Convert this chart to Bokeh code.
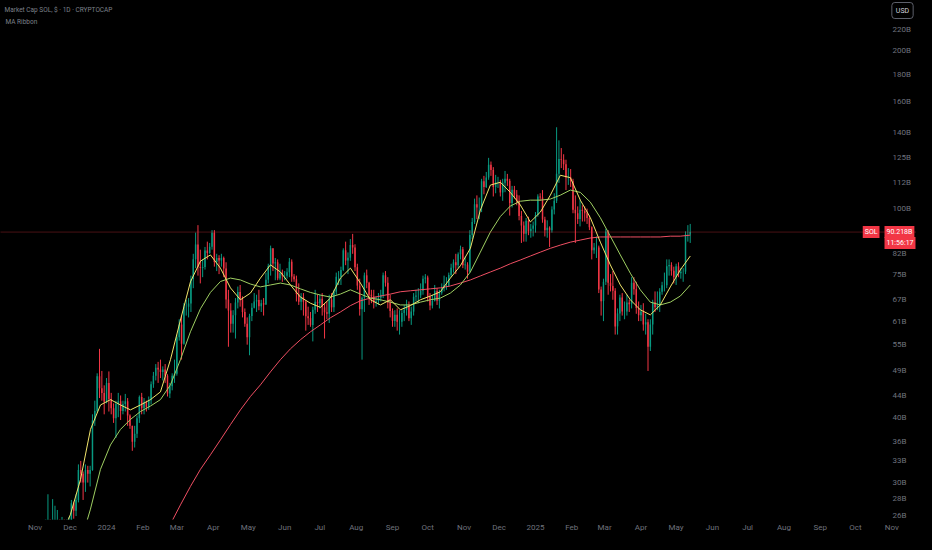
import pandas as pd
from bokeh.plotting import figure
from bokeh.models import (ColumnDataSource, Range1d, FixedTicker, Span, Label,
                          GlobalInlineStyleSheet)
from bokeh.embed import file_html
from bokeh.resources import INLINE

# SOL market cap, 2-day candles, billions USD, first candle 2023-11-09
candle_start = "2023-11-09"
first_open = 18.6
closes = [
    23.5, 23.9, 22.4, 24.5, 25.0, 25.4, 24.1, 24.5, 24.1, 24.5, 25.0,
    27.4, 26.5, 27.8, 31.7, 31.2, 30.0, 31.7, 31.2, 31.7, 39.4, 41.1, 47.9, 45.4, 44.5, 42.8, 46.5,
    43.3, 41.6, 39.8, 42.4, 42.9, 41.1, 42.4, 42.9, 40.3, 38.5, 35.9, 37.2, 39.8, 43.7, 41.6,
    42.7, 41.8, 43.1, 46.2, 48.0, 49.7, 49.3, 48.8, 49.3, 48.0, 44.4, 45.8, 48.0, 48.4, 56.8,
    60.1, 55.2, 65.0, 65.0, 65.9, 73.4, 80.1, 85.4, 77.4, 77.0, 77.4, 83.2, 82.3, 84.6, 89.9,
    79.1, 80.5, 79.6, 80.5, 76.9, 67.1, 63.9, 60.3, 62.6, 66.2, 69.3, 67.1, 63.5, 60.3, 56.8,
    62.4, 64.7, 66.5, 66.9, 65.1, 66.0, 65.6, 73.2, 77.7, 84.0, 78.6, 79.0, 73.6, 75.4, 74.5, 74.5,
    75.6, 79.2, 74.2, 73.3, 68.7, 66.4, 67.8, 66.4, 62.3, 61.8, 60.0, 64.1, 66.4, 66.0, 67.3,
    64.8, 63.4, 63.0, 67.1, 64.8, 69.4, 74.1, 74.1, 76.4, 83.3, 79.6, 80.6, 85.2, 84.3, 77.3,
    71.3, 64.3, 67.6, 74.6, 72.2, 68.5, 68.0, 66.2, 66.6, 67.6, 68.5, 74.6, 72.2, 66.2, 63.8, 61.0,
    62.7, 60.8, 60.8, 63.2, 64.1, 65.5, 61.8, 63.6, 67.9, 68.3, 68.3, 69.7, 73.5, 73.9, 67.9,
    65.3, 66.7, 69.6, 66.7, 69.1, 70.5, 71.4, 71.4, 74.7, 77.1, 79.0, 78.0, 81.8, 83.7, 78.0,
    78.2, 75.8, 89.1, 94.3, 101.9, 100.5, 100.5, 112.8, 110.0, 114.7, 121.3, 118.5, 110.0, 112.3, 112.3,
    107.3, 112.1, 114.0, 113.0, 102.5, 108.7, 106.3, 103.5, 96.8, 92.9, 89.6, 94.8, 90.5, 91.5, 92.9, 97.2,
    105.5, 105.0, 95.3, 90.9, 91.9, 90.9, 99.6, 103.5, 116.6, 124.4, 123.9, 121.5, 114.7, 114.7, 112.8,
    99.5, 98.0, 95.6, 99.5, 99.0, 98.0, 96.0, 92.1, 83.3, 84.3, 84.3, 70.1, 66.6, 72.5,
    90.4, 72.2, 71.2, 69.7, 59.6, 63.1, 67.7, 63.6, 63.6, 66.2, 65.7, 72.2, 70.2, 64.6, 62.6, 63.6,
    60.1, 60.7, 54.5, 60.1, 66.3, 64.8, 65.3, 69.4, 71.4, 71.4, 77.6, 78.1, 76.1, 74.0, 77.6,
    75.3, 75.8, 75.8, 89.3, 89.3, 90.218,
]
highs = [
    24.5, 28.5, 24.1, 27.9, 27.1, 26.6, 25.4, 25.8, 25.4, 25.0, 25.8,
    27.8, 27.6, 28.5, 32.5, 33.0, 31.5, 32.5, 32.3, 32.3, 40.5, 43.0, 48.5, 54.0, 49.0, 46.0, 47.5,
    48.9, 44.5, 42.5, 43.0, 44.5, 44.0, 43.0, 44.3, 43.5, 40.5, 38.5, 38.5, 40.3, 44.0, 44.5,
    43.5, 43.0, 43.8, 46.8, 48.8, 50.5, 51.0, 51.5, 50.0, 50.5, 48.3, 46.5, 48.5, 51.5, 57.5,
    61.5, 62.5, 66.0, 67.0, 67.5, 74.5, 82.0, 90.0, 93.0, 83.5, 80.0, 84.5, 86.5, 86.0, 91.0,
    91.0, 82.0, 81.5, 82.0, 81.0, 79.0, 70.0, 66.0, 64.0, 67.5, 71.0, 71.5, 68.0, 64.5, 62.0,
    63.0, 66.0, 69.0, 68.5, 70.0, 67.0, 67.5, 75.5, 78.5, 85.0, 84.0, 80.5, 80.0, 78.5, 76.5, 76.0,
    77.0, 80.5, 80.0, 75.0, 74.5, 72.0, 69.0, 69.0, 66.8, 65.0, 63.5, 65.0, 70.0, 68.5, 68.5,
    69.0, 66.0, 66.5, 68.5, 69.0, 70.0, 75.5, 76.0, 77.5, 84.0, 86.5, 82.5, 87.5, 89.5, 85.5,
    78.5, 73.5, 68.0, 75.5, 76.5, 72.5, 70.0, 70.0, 68.0, 69.0, 70.0, 75.5, 76.0, 74.0, 68.5, 64.5,
    64.0, 64.5, 64.0, 64.0, 65.5, 67.0, 66.5, 65.0, 69.0, 70.0, 70.5, 72.0, 74.5, 75.0, 74.5,
    69.0, 68.5, 71.5, 70.5, 70.0, 72.0, 74.5, 74.0, 75.5, 78.5, 80.0, 82.0, 82.5, 85.0, 84.5,
    81.0, 79.0, 91.0, 96.0, 104.5, 106.0, 105.0, 114.0, 115.5, 117.5, 125.0, 123.0, 120.0, 116.0, 115.0,
    113.5, 114.0, 118.0, 116.5, 114.0, 110.5, 110.5, 108.5, 106.0, 99.0, 94.5, 96.0, 96.5, 93.5, 94.5, 98.5,
    106.5, 107.0, 108.5, 96.5, 95.0, 92.5, 101.0, 107.0, 143.0, 135.0, 130.5, 127.0, 124.0, 119.5, 119.0,
    114.0, 106.0, 101.0, 104.0, 101.5, 101.0, 100.0, 97.0, 92.5, 86.0, 88.5, 85.0, 71.0, 73.5,
    91.5, 91.0, 75.0, 76.0, 70.5, 64.5, 68.5, 69.0, 66.5, 68.5, 67.0, 74.0, 74.0, 72.5, 66.5, 65.5,
    66.0, 63.0, 61.5, 61.5, 67.0, 69.5, 69.5, 70.5, 72.5, 75.5, 80.0, 80.0, 79.0, 77.5, 78.5,
    79.0, 77.0, 77.0, 90.5, 93.0, 93.5,
]
lows = [
    18.2, 22.4, 22.0, 22.4, 23.7, 24.5, 22.0, 23.7, 23.3, 22.4, 24.1,
    24.8, 25.6, 25.9, 27.5, 30.0, 27.8, 28.8, 30.0, 29.5, 31.6, 38.5, 40.8, 43.5, 43.0, 40.5, 42.5,
    41.0, 40.5, 39.0, 36.5, 40.0, 39.5, 40.5, 41.0, 38.5, 38.0, 34.5, 35.0, 36.5, 39.0, 40.5,
    40.5, 41.0, 41.3, 42.3, 45.5, 47.0, 46.5, 47.5, 47.0, 46.5, 43.8, 43.5, 45.0, 46.5, 48.0,
    56.0, 51.5, 55.0, 62.5, 62.0, 63.5, 70.5, 77.0, 74.5, 72.0, 74.0, 76.5, 80.0, 82.0, 83.5,
    77.5, 76.0, 75.0, 77.5, 74.0, 64.5, 54.5, 58.0, 58.0, 56.5, 64.5, 65.0, 62.0, 59.5, 55.0,
    52.5, 61.0, 64.5, 63.5, 64.0, 63.5, 62.5, 65.5, 72.0, 74.5, 76.0, 73.0, 73.0, 73.0, 72.5, 73.0,
    73.5, 74.0, 72.5, 72.5, 66.5, 65.5, 64.0, 62.5, 58.5, 60.0, 59.5, 55.8, 63.0, 63.5, 64.5,
    62.5, 56.5, 61.5, 60.5, 63.5, 63.5, 68.5, 71.5, 71.5, 76.0, 78.0, 75.0, 79.5, 82.0, 76.0,
    70.0, 62.5, 51.5, 63.5, 70.5, 65.5, 66.0, 64.5, 65.0, 65.5, 66.5, 67.5, 71.0, 64.5, 62.0, 59.5,
    59.5, 58.5, 57.5, 59.5, 61.0, 62.5, 61.0, 60.0, 62.5, 66.5, 66.0, 67.5, 68.5, 72.0, 66.5,
    64.0, 64.5, 66.5, 65.5, 64.5, 68.5, 69.5, 70.0, 71.0, 74.0, 75.5, 75.0, 77.0, 80.0, 77.0,
    76.5, 73.5, 75.5, 87.5, 93.5, 95.5, 95.5, 98.5, 106.5, 109.5, 113.5, 115.5, 105.5, 107.0, 109.5,
    105.5, 103.5, 107.5, 110.5, 97.0, 100.5, 104.5, 101.5, 95.0, 86.0, 86.5, 86.5, 89.0, 88.0, 88.5, 90.0,
    96.5, 103.5, 94.0, 88.5, 88.0, 84.5, 90.0, 97.5, 102.5, 112.0, 119.5, 118.5, 108.5, 111.0, 110.0,
    98.0, 86.0, 93.5, 92.5, 94.5, 94.5, 93.5, 91.0, 80.0, 82.0, 80.5, 69.0, 62.5, 61.0,
    71.5, 68.5, 69.5, 67.0, 57.5, 57.5, 61.0, 62.5, 61.5, 62.5, 63.5, 64.5, 68.5, 63.0, 61.0, 61.0,
    58.5, 57.5, 49.0, 53.5, 57.5, 63.5, 64.0, 63.5, 68.5, 69.5, 70.5, 74.5, 74.5, 72.0, 71.5,
    74.0, 73.5, 72.5, 75.0, 86.5, 86.0,
]

# moving averages, one point every 8.53 days
ma_step_days = 8.53
ma_fast_start = "2023-11-22 17:00"
ma_fast = [
    23.5, 26.1, 30.4, 37.9, 42.2, 43.2, 42.2, 41.3, 42.2, 43.2, 44.7, 51.5, 61.3, 72.5, 79.4, 81.6,
    77.0, 70.6, 67.0, 69.0, 73.7, 78.1, 75.7, 71.5, 67.8, 66.0, 64.8, 67.5, 73.7, 77.0, 72.1, 67.0,
    65.5, 67.0, 64.1, 65.3, 67.0, 68.1, 69.4, 73.7, 77.8, 84.0, 99.4, 110.9, 112.3, 107.4, 101.6,
    94.3, 98.5, 106.1, 115.8, 114.6, 103.8, 96.1, 86.3, 78.1, 71.5, 67.0, 64.1, 62.7, 65.5, 70.9,
    76.4, 81.2,
]
ma_mid_start = "2023-12-09 18:00"
ma_mid = [
    23.0, 26.7, 31.8, 35.4, 37.9, 39.6, 41.0, 42.0, 43.2, 46.1, 51.5, 58.2, 64.4, 69.2, 72.6, 73.7,
    73.1, 71.8, 70.9, 71.5, 72.1, 71.5, 70.3, 69.2, 68.4, 67.8, 68.7, 70.0, 68.7, 67.5, 67.0, 66.3,
    65.5, 65.5, 66.3, 67.0, 67.5, 69.0, 71.5, 75.7, 82.6, 90.2, 96.6, 101.2, 103.3, 103.8, 103.8,
    104.3, 106.1, 108.5, 107.4, 102.9, 96.1, 88.6, 81.6, 75.3, 70.0, 66.3, 65.5, 66.3, 68.1, 71.5,
]
ma_slow_start = "2024-02-16 00:00"
ma_slow = [
    23.0, 25.0, 27.2, 29.5, 31.8, 33.9, 36.2, 38.7, 41.3, 43.8, 46.1, 48.8, 51.5, 54.0, 56.2, 58.2,
    60.0, 61.9, 63.5, 65.3, 66.7, 67.5, 68.1, 68.7, 69.4, 69.7, 70.0, 70.3, 70.6, 71.2, 72.1, 73.1,
    74.4, 75.7, 77.0, 78.5, 79.8, 81.2, 82.6, 84.0, 85.2, 86.3, 87.1, 87.9, 88.3, 88.3, 88.3, 88.3,
    88.3, 88.3, 88.3, 88.6, 88.6, 89.0,
]

y_ticks = [26, 28, 30, 33, 36, 40, 44, 49, 55, 61, 67, 75, 82, 100, 112, 125, 140, 160, 180, 200, 220]
y_labels = ["26B", "28B", "30B", "33B", "36B", "40B", "44B", "49B", "55B", "61B", "67B", "75B",
            "82B", "100B", "112B", "125B", "140B", "160B", "180B", "200B", "220B"]
month_start = "2023-11-01"
month_labels = ["Nov", "Dec", "2024", "Feb", "Mar", "Apr", "May", "Jun", "Jul", "Aug", "Sep", "Oct",
                "Nov", "Dec", "2025", "Feb", "Mar", "Apr", "May", "Jun", "Jul", "Aug", "Sep", "Oct", "Nov"]

GREEN = "#089981"
RED = "#f23645"

opens = [first_open] + closes[:-1]
dates = pd.date_range(candle_start, periods=len(closes), freq="2D") + pd.Timedelta(days=1)
src = ColumnDataSource(dict(
    x=dates, o=opens, c=closes, h=highs, l=lows,
    color=[GREEN if c >= o else RED for o, c in zip(opens, closes)],
))

p = figure(width=916, height=534, x_axis_type="datetime", y_axis_type="log",
           y_axis_location="right",
           x_range=Range1d(pd.Timestamp("2023-10-02 12:30"), pd.Timestamp("2025-11-22 02:00")),
           y_range=Range1d(25.51, 249.6),
           output_backend="svg", toolbar_location=None,
           background_fill_color="#000000", border_fill_color="#000000",
           min_border_left=0, min_border_top=0, min_border_right=0, min_border_bottom=14)
p.stylesheets = [GlobalInlineStyleSheet(css="html, body { background-color: #000000; }")]
p.outline_line_color = None
p.grid.grid_line_color = None

p.segment(x0="x", y0="h", x1="x", y1="l", color="color", line_width=1, source=src)
p.vbar(x="x", width=pd.Timedelta(days=1.25).total_seconds() * 1000, top="o", bottom="c",
       fill_color="color", line_color=None, source=src)

step = pd.Timedelta(days=ma_step_days)
for start, vals, col in [(ma_slow_start, ma_slow, "#ef4f63"),
                         (ma_mid_start, ma_mid, "#9fcf62"),
                         (ma_fast_start, ma_fast, "#f1e56b")]:
    p.line(pd.date_range(start, periods=len(vals), freq=step), vals, line_color=col, line_width=1)

last = closes[-1]
p.add_layout(Span(location=last, dimension="width", line_color=RED, line_alpha=0.6,
                  line_width=1, line_dash="1 1"))

# axes: the price scale sits inside the frame at its right edge
tick_dates = pd.date_range(month_start, periods=len(month_labels), freq="MS")
tick_ms = [int(t.value // 10**6) for t in tick_dates]
p.xaxis.ticker = FixedTicker(ticks=tick_ms)
p.xaxis.major_label_overrides = dict(zip(tick_ms, month_labels))
p.yaxis.ticker = FixedTicker(ticks=y_ticks)
p.yaxis.major_label_overrides = dict(zip(y_ticks, y_labels))
p.yaxis.fixed_location = int(pd.Timestamp("2025-10-30").value // 10**6)
for ax in (p.xaxis, p.yaxis):
    ax.axis_line_color = None
    ax.major_tick_line_color = None
    ax.minor_tick_line_color = None
    ax.major_tick_out = 0
    ax.major_tick_in = 0
    ax.major_label_text_color = "#6f727c"
    ax.major_label_text_font = "Roboto"
    ax.major_label_text_font_size = "8px"
p.yaxis.major_label_standoff = 3
p.xaxis.major_label_standoff = 3

# header and price tags
p.add_layout(Label(x=4, y=510, x_units="screen", y_units="screen",
                   text="Market Cap SOL, $ · 1D · CRYPTOCAP", text_font="Roboto",
                   text_font_size="6.5px", text_color="#7d808a", text_baseline="middle"))
p.add_layout(Label(x=5, y=498, x_units="screen", y_units="screen",
                   text="MA Ribbon", text_font="Roboto",
                   text_font_size="6.5px", text_color="#7d808a", text_baseline="middle"))
p.add_layout(Label(x=902, y=509, x_units="screen", y_units="screen", text="USD",
                   text_font="Roboto", text_font_size="7px", text_color="#d1d4dc",
                   text_align="center", text_baseline="middle", padding=4,
                   border_line_color="#5d606b", border_radius=3,
                   background_fill_color="#000000"))
p.add_layout(Label(x=879, y=last, x_units="screen", y_units="data", text="SOL",
                   text_font="Roboto", text_font_size="7px", text_color="#ffffff",
                   text_align="right", text_baseline="middle", padding=2,
                   background_fill_color=RED))
p.add_layout(Label(x=884, y=last, x_units="screen", y_units="data", text=f"{last:.3f}B",
                   text_font="Roboto", text_font_size="7px", text_color="#ffffff",
                   text_align="left", text_baseline="middle", padding=2,
                   background_fill_color=RED))
p.add_layout(Label(x=884, y=last, y_offset=-11, x_units="screen", y_units="data",
                   text="11:56:17", text_font="Roboto", text_font_size="7px",
                   text_color="#ffffff", text_align="left", text_baseline="middle",
                   padding=2, background_fill_color=RED))

open("out.html", "w").write(file_html(p, INLINE))
